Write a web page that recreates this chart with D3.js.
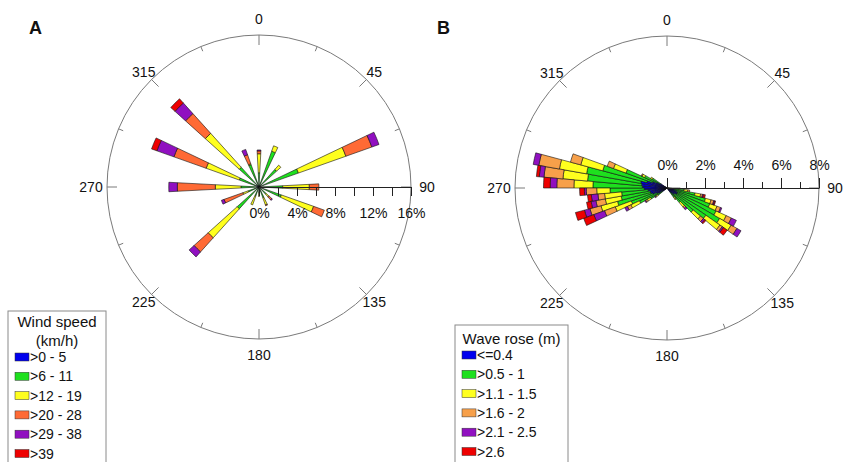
<!DOCTYPE html>
<html>
<head>
<meta charset="utf-8">
<script src="https://cdn.jsdelivr.net/npm/d3@7"></script>
<style>
body { margin: 0; background: #fff; }
text { font-family: "Liberation Sans", Arial, sans-serif; fill: #111; }
</style>
</head>
<body>
<svg width="843" height="462"></svg>
<script>
// A: wind rose, 16 sectors, % of time per speed class
var windDirs   = [0, 22.5, 45, 67.5, 90, 112.5, 135, 157.5, 180, 202.5, 225, 247.5, 270, 292.5, 315, 337.5];
var wind0_5    = [0.1, 0.1, 0.1, 0.2, 0.2, 0.2, 0.1, 0.1, 0.1, 0.1, 0.2, 0.2, 0.2, 0.3, 0.3, 0.1];
var wind6_11   = [1.4, 3.9, 2.4, 4.2, 2.3, 2.3, 0.9, 1.1, 0.5, 0.9, 2.9, 1.0, 1.7, 1.9, 2.5, 2.4];
var wind12_19  = [2.0, 0.6, 0.6, 5.3, 2.8, 3.6, 0.4, 0.8, 0.4, 1.0, 4.1, 0.6, 2.7, 3.7, 4.8, 0.1];
var wind20_28  = [0.3, 0, 0, 2.9, 1.0, 1.2, 0.4, 0.1, 0, 0, 2.0, 2.1, 4.0, 3.6, 2.8, 1.0];
var wind29_38  = [0.1, 0, 0, 0.8, 0, 0, 0.1, 0, 0, 0, 0.7, 0.3, 0.9, 1.9, 1.5, 0.6];
var wind39     = [0, 0, 0, 0, 0, 0, 0, 0, 0, 0, 0, 0, 0, 0.6, 0.6, 0];
var windLabels = [">0 - 5", ">6 - 11", ">12 - 19", ">20 - 28", ">29 - 38", ">39"];
var windTicks  = [0, 4, 8, 12, 16];

// B: wave rose, 5 degree sectors (empty sectors left out)
var waveDirs   = [92.5, 97.5, 102.5, 107.5, 112.5, 117.5, 122.5, 127.5, 132.5, 137.5, 142.5,
                  232.5, 237.5, 242.5, 247.5, 252.5, 257.5, 262.5, 267.5, 272.5, 277.5, 282.5, 287.5, 292.5, 297.5, 302.5];
var wave04     = [0.3, 0.4, 0.4, 0.5, 0.6, 0.6, 0.6, 0.5, 0.5, 0.4, 0.3,
                  0.3, 0.5, 0.6, 0.8, 0.9, 0.9, 1.0, 1.2, 1.3, 1.35, 1.4, 1.1, 0.8, 0.6, 0.4];
var wave05_1   = [0.3, 0.5, 1.1, 1.6, 1.8, 2.25, 2.6, 2.0, 1.3, 0.6, 0.3,
                  0.3, 0.5, 1.0, 1.2, 1.8, 1.55, 1.4, 1.8, 2.6, 2.85, 2.9, 2.4, 1.5, 0.7, 0.5];
var wave11_15  = [0.1, 0.2, 0.3, 0.3, 0.4, 0.59, 0.7, 0.9, 0.5, 0.3, 0.1,
                  0.1, 0.2, 0.5, 0.9, 0.9, 0.85, 0.9, 0.7, 1.0, 1.3, 1.45, 1.2, 0.7, 0.15, 0.1];
var wave16_2   = [0, 0.1, 0.1, 0.15, 0.2, 0.3, 0.35, 0.15, 0.2, 0.1, 0.05,
                  0.05, 0.1, 0.2, 0.6, 0.6, 0.5, 0.35, 0.55, 0.9, 1.0, 1.1, 0.56, 0.35, 0.05, 0];
var wave21_25  = [0, 0, 0.05, 0.05, 0.07, 0.29, 0.25, 0.08, 0.1, 0.1, 0,
                  0.05, 0.05, 0.15, 0.6, 0.3, 0.26, 0.35, 0.1, 0.35, 0.25, 0.3, 0, 0, 0, 0];
var wave26     = [0, 0, 0.1, 0.05, 0, 0, 0, 0.24, 0.07, 0, 0,
                  0, 0, 0, 0.57, 0.49, 0.24, 0.2, 0.25, 0.35, 0.15, 0, 0, 0, 0, 0];
var waveLabels = ["<=0.4", ">0.5 - 1", ">1.1 - 1.5", ">1.6 - 2", ">2.1 - 2.5", ">2.6"];
var waveTicks  = [0, 2, 4, 6, 8];

var compass = [0, 45, 90, 135, 180, 225, 270, 315];

var windColors = ["#0000ee", "#1ee01e", "#ffff1e", "#ff6a35", "#9010c0", "#ee0000"];
var waveColors = ["#0000ee", "#1ee01e", "#ffff1e", "#f7a04a", "#9010c0", "#ee0000"];

var svg = d3.select("svg");
var R = 152;
var keys = ["c0", "c1", "c2", "c3", "c4", "c5"];

function table(dirs, cols) {
  return dirs.map(function(d, i) {
    var row = {dir: d};
    cols.forEach(function(c, k) { row[keys[k]] = c[i]; });
    return row;
  });
}

function rose(cx, cy, letter, data, colors, ticks, halfWidth, below, step) {
  var g = svg.append("g").attr("transform", "translate(" + cx + "," + cy + ")");
  var maxPct = ticks[ticks.length - 1];
  var r = d3.scaleLinear().domain([0, maxPct]).range([0, R]);
  var rad = Math.PI / 180;

  svg.append("text").attr("x", cx - 230).attr("y", 34)
      .attr("font-size", 18).attr("font-weight", "bold").text(letter);

  // outer circle + direction ticks
  g.append("circle").attr("r", R).attr("fill", "none").attr("stroke", "#7a7a7a").attr("stroke-width", 1);
  g.selectAll(".dtick").data(d3.range(0, 360, 22.5)).enter().append("line")
      .attr("x1", function(d) { return R * Math.sin(d * rad); })
      .attr("y1", function(d) { return -R * Math.cos(d * rad); })
      .attr("x2", function(d) { var l = d % 45 === 0 ? R - 10 : R - 5; return l * Math.sin(d * rad); })
      .attr("y2", function(d) { var l = d % 45 === 0 ? R - 10 : R - 5; return -l * Math.cos(d * rad); })
      .attr("stroke", "#7a7a7a");

  g.selectAll(".dlab").data(compass).enter().append("text")
      .attr("x", function(d) { var l = d % 90 === 0 ? 168 : 163; return l * Math.sin(d * rad); })
      .attr("y", function(d) { var l = d % 90 === 0 ? 168 : 163; return -l * Math.cos(d * rad); })
      .attr("text-anchor", "middle").attr("dy", "0.36em")
      .attr("font-size", 14).text(function(d) { return d; });

  // stacked sectors
  var series = d3.stack().keys(keys)(data);
  var arc = d3.arc()
      .innerRadius(function(d) { return r(d[0]); })
      .outerRadius(function(d) { return r(d[1]); })
      .startAngle(function(d) { return (d.data.dir - halfWidth) * rad; })
      .endAngle(function(d) { return (d.data.dir + halfWidth) * rad; });

  g.selectAll(".layer").data(series).enter().append("g")
      .attr("fill", function(d, i) { return colors[i]; })
    .selectAll("path")
    .data(function(d) { return d.filter(function(s) { return s[1] > s[0]; }); })
    .enter().append("path")
      .attr("d", arc)
      .attr("stroke", "#111").attr("stroke-width", 0.6);

  // radial percent axis along 90 degrees
  var ax = (below ? d3.axisBottom(r) : d3.axisTop(r))
      .tickValues(d3.range(0, maxPct + 0.01, step))
      .tickSize(below ? 9 : 10).tickSizeOuter(0)
      .tickPadding(below ? 12 : 8)
      .tickFormat(function(d) { return ticks.indexOf(d) >= 0 ? d + "%" : ""; });
  var axg = g.append("g").call(ax).attr("font-size", 14).attr("font-family", null);
  axg.select(".domain").attr("stroke", "#222");
  axg.selectAll(".tick line").attr("stroke", "#222")
      .filter(function(d) { return !below && ticks.indexOf(d) < 0; }).attr("y2", -6);
  axg.selectAll(".tick text").attr("fill", "#111");
}

function legend(x, y, w, title, labels, colors) {
  var g = svg.append("g").attr("transform", "translate(" + x + "," + y + ")");
  g.append("rect").attr("width", w).attr("height", 200)
      .attr("fill", "#fff").attr("stroke", "#8a8a8a");
  var top = title.length > 1 ? 11 : 14;
  title.forEach(function(t, i) {
    g.append("text").attr("x", w / 2).attr("y", top + i * 19).attr("dy", "0.36em")
        .attr("text-anchor", "middle").attr("font-size", 15).text(t);
  });
  top += title.length * 19 - 3;
  var row = g.selectAll(".item").data(labels).enter().append("g")
      .attr("transform", function(d, i) { return "translate(7," + (top + i * 19.3) + ")"; });
  row.append("rect").attr("y", -4).attr("width", 14).attr("height", 8)
      .attr("fill", function(d, i) { return colors[i]; })
      .attr("stroke", "#333").attr("stroke-width", 0.5);
  row.append("text").attr("x", 15).attr("dy", "0.36em").attr("font-size", 14)
      .text(function(d) { return d; });
}

rose(259, 187, "A", table(windDirs, [wind0_5, wind6_11, wind12_19, wind20_28, wind29_38, wind39]),
     windColors, windTicks, 3, true, 2);
rose(667, 188, "B", table(waveDirs, [wave04, wave05_1, wave11_15, wave16_2, wave21_25, wave26]),
     waveColors, waveTicks, 2.5, false, 1);

legend(8, 311, 98, ["Wind speed", "(km/h)"], windLabels, windColors);
legend(455, 325, 113, ["Wave rose (m)"], waveLabels, waveColors);
</script>
</body>
</html>
